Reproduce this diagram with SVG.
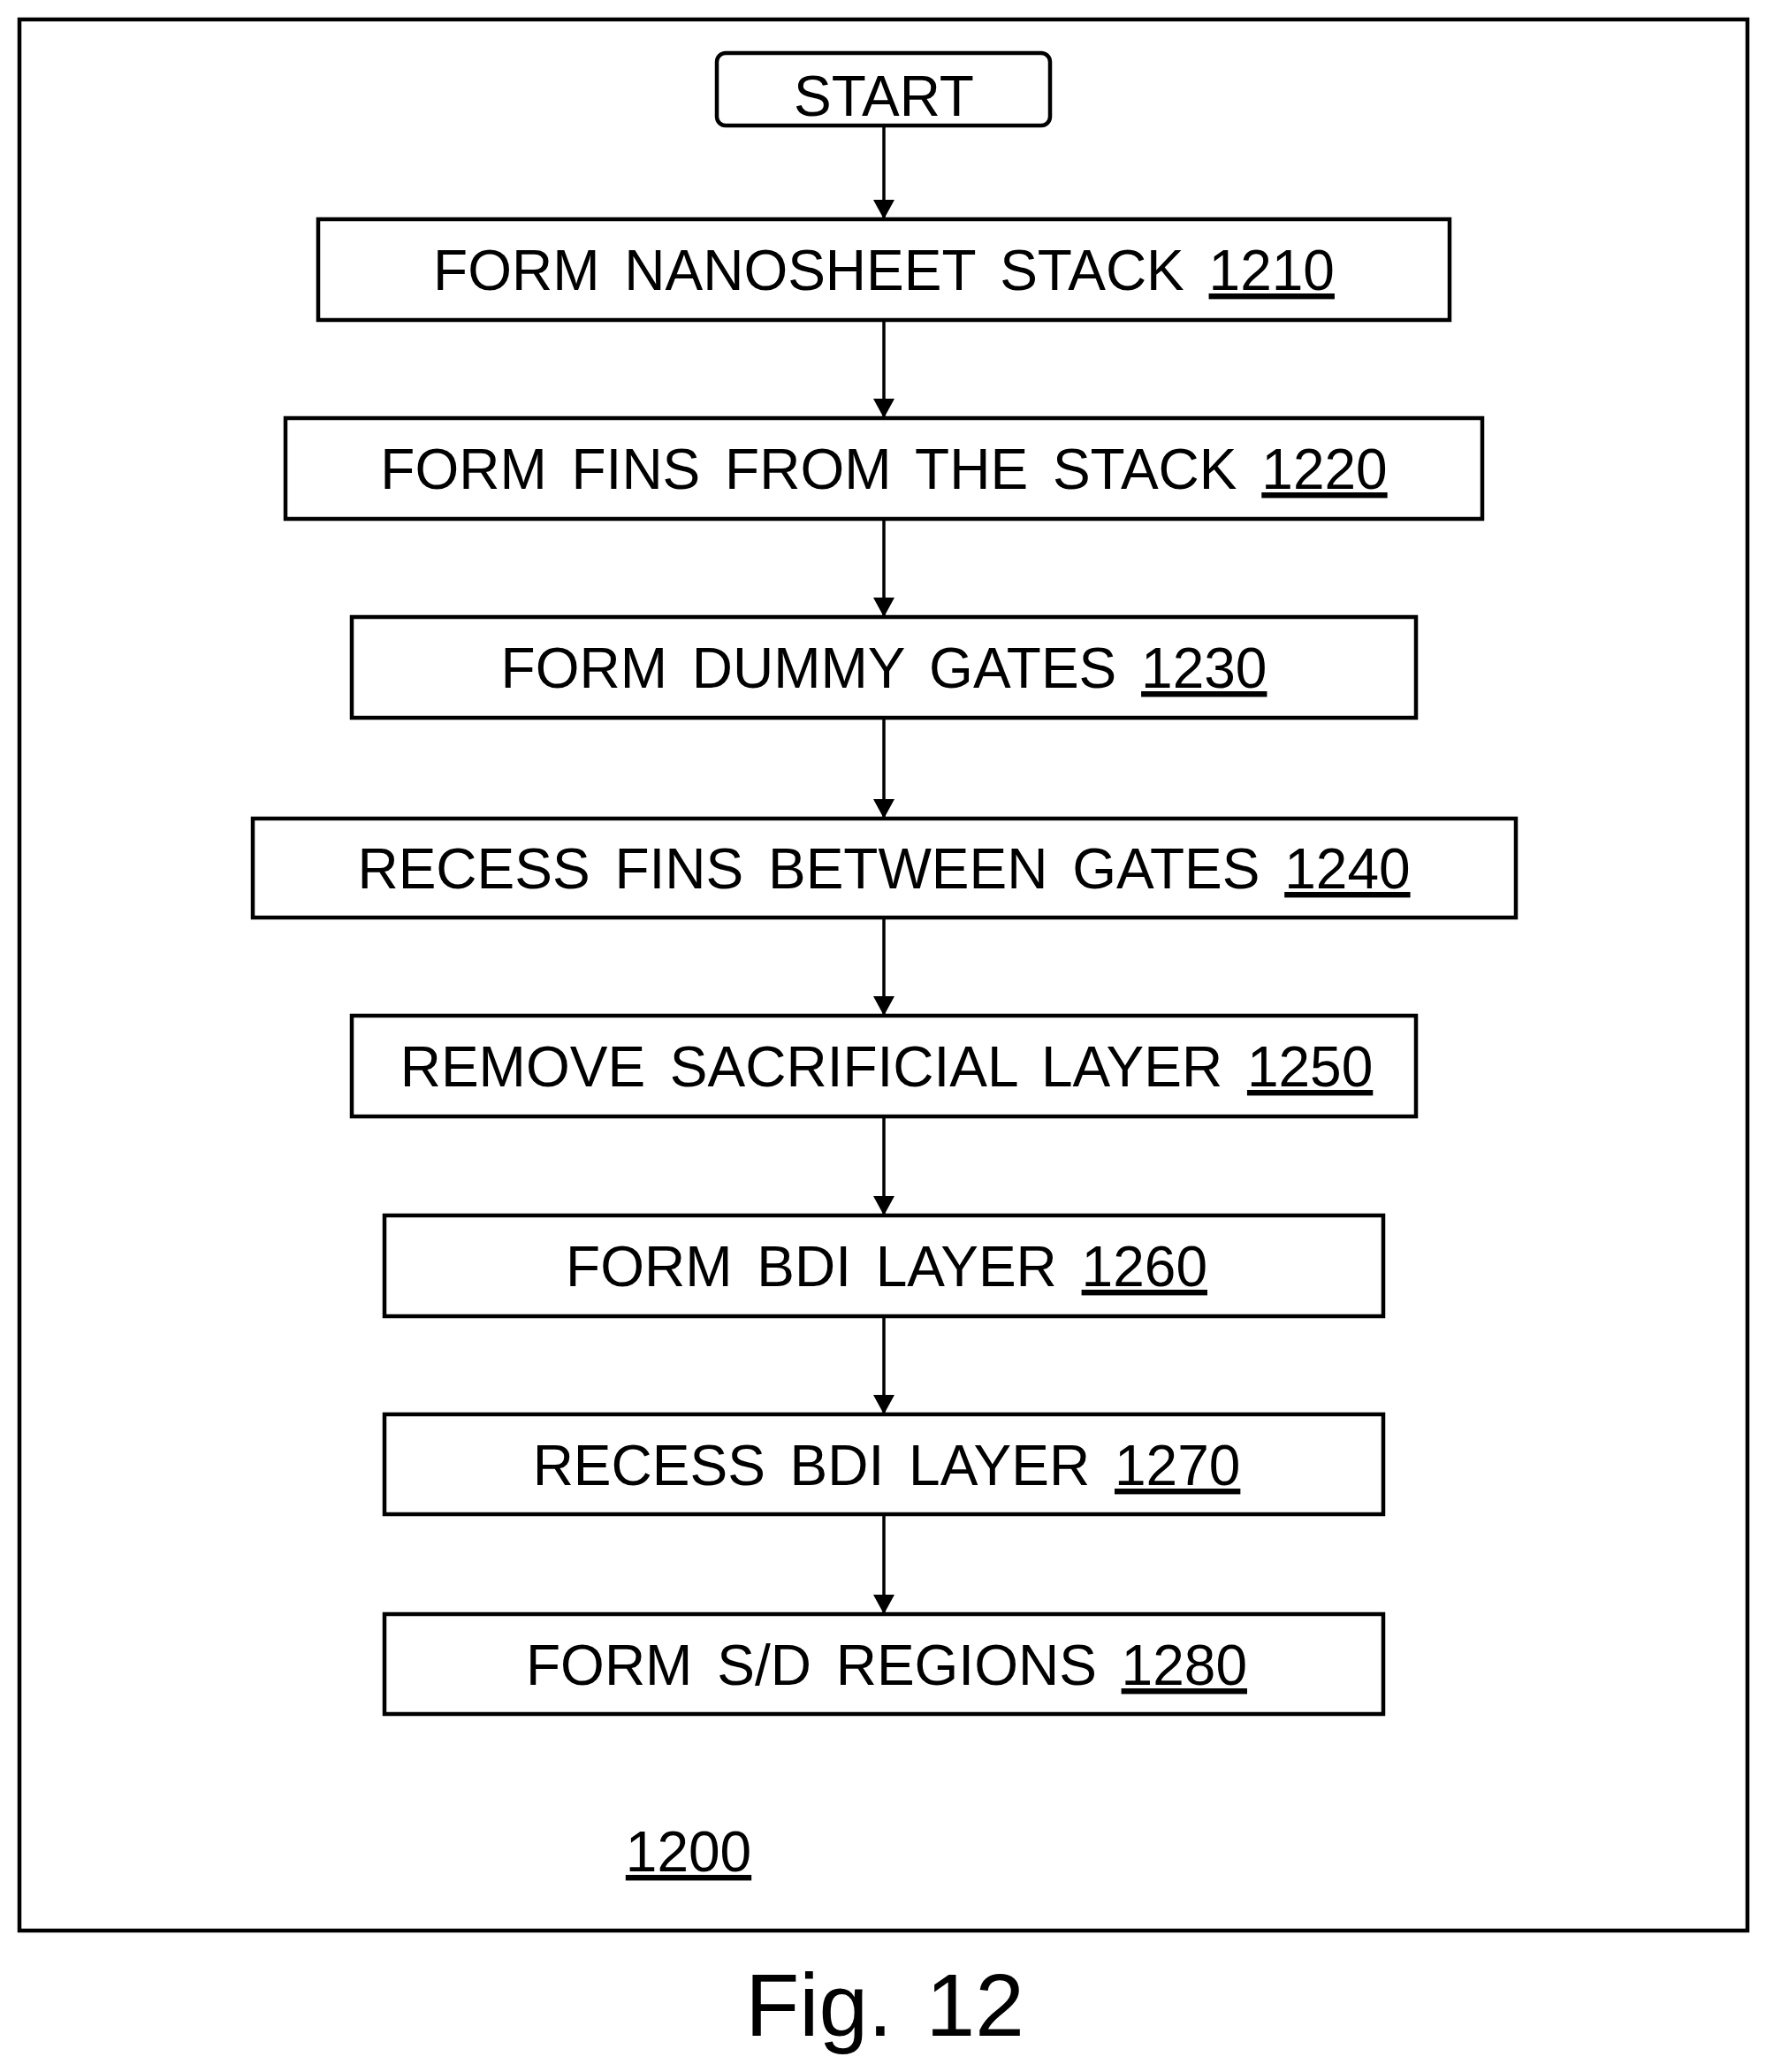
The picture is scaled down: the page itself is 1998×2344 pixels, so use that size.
<svg xmlns="http://www.w3.org/2000/svg" width="1998" height="2344" viewBox="0 0 1998 2344">
<style>
.b{fill:#fff;stroke:#000;stroke-width:4.5}
.t{font-family:"Liberation Sans",Arial,sans-serif;font-size:64px;word-spacing:10px;text-anchor:middle;fill:#000}
.u{text-decoration:underline}
.c{stroke:#000;stroke-width:3.5;fill:none;marker-end:url(#a2)}
</style>
<defs>
<marker id="a2" markerWidth="22" markerHeight="24" refX="22" refY="12" orient="auto" markerUnits="userSpaceOnUse"><path d="M0,0 L22,12 L0,24 z"/></marker></defs>
<rect x="22" y="22" width="1955" height="2162" fill="#fff" stroke="#000" stroke-width="4.5"/>
<g id="connectors">
<line class="c" x1="1000" y1="142" x2="1000" y2="248"/>
<line class="c" x1="1000" y1="362" x2="1000" y2="473"/>
<line class="c" x1="1000" y1="587" x2="1000" y2="698"/>
<line class="c" x1="1000" y1="812" x2="1000" y2="926"/>
<line class="c" x1="1000" y1="1038" x2="1000" y2="1149"/>
<line class="c" x1="1000" y1="1263" x2="1000" y2="1375"/>
<line class="c" x1="1000" y1="1489" x2="1000" y2="1600"/>
<line class="c" x1="1000" y1="1713" x2="1000" y2="1826"/>
</g>
<g id="start"><rect class="b" x="811" y="60" width="377" height="82" rx="10"/><text class="t" x="1000" y="131">START</text></g>
<g id="n1210"><rect class="b" x="360" y="248" width="1280" height="114"/><text class="t" x="1000" y="328">FORM NANOSHEET STACK <tspan class="u">1210</tspan></text></g>
<g id="n1220"><rect class="b" x="323" y="473" width="1354" height="114"/><text class="t" x="1000" y="553">FORM FINS FROM THE STACK <tspan class="u">1220</tspan></text></g>
<g id="n1230"><rect class="b" x="398" y="698" width="1204" height="114"/><text class="t" x="1000" y="778">FORM DUMMY GATES <tspan class="u">1230</tspan></text></g>
<g id="n1240"><rect class="b" x="286" y="926" width="1429" height="112"/><text class="t" x="1000" y="1005">RECESS FINS BETWEEN GATES <tspan class="u">1240</tspan></text></g>
<g id="n1250"><rect class="b" x="398" y="1149" width="1204" height="114"/><text class="t" x="1003" y="1229">REMOVE SACRIFICIAL LAYER <tspan class="u">1250</tspan></text></g>
<g id="n1260"><rect class="b" x="435" y="1375" width="1130" height="114"/><text class="t" x="1003" y="1455">FORM BDI LAYER <tspan class="u">1260</tspan></text></g>
<g id="n1270"><rect class="b" x="435" y="1600" width="1130" height="113"/><text class="t" x="1003" y="1680">RECESS BDI LAYER <tspan class="u">1270</tspan></text></g>
<g id="n1280"><rect class="b" x="435" y="1826" width="1130" height="113"/><text class="t" x="1003" y="1906">FORM S/D REGIONS <tspan class="u">1280</tspan></text></g>
<text class="t u" x="779" y="2117">1200</text>
<text class="t" style="font-size:100px" x="1001" y="2303">Fig. 12</text>
</svg>
